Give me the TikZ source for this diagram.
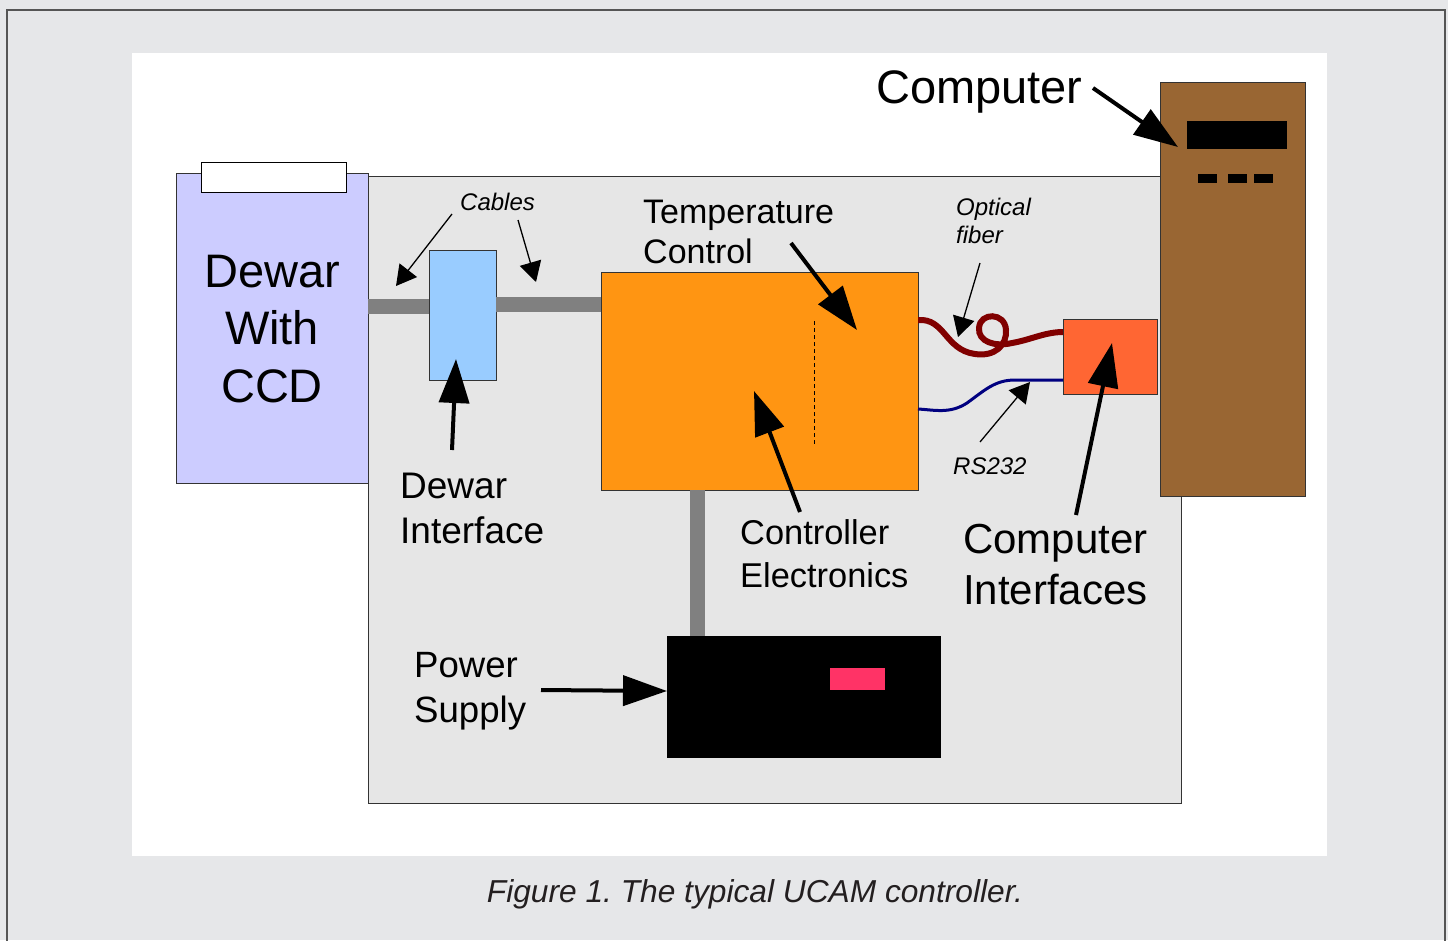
\documentclass[tikz,border=0pt]{standalone}
\usepackage{fontspec}
\setmainfont{Liberation Sans}
\usetikzlibrary{arrows.meta}
\definecolor{bggray}{HTML}{E6E7E9}
\definecolor{framegray}{HTML}{555555}
\definecolor{enclgray}{HTML}{E6E6E6}
\definecolor{boxline}{HTML}{333333}
\definecolor{dewarc}{HTML}{CCCCFF}
\definecolor{ifblue}{HTML}{99CCFF}
\definecolor{ctrlorange}{HTML}{FF9512}
\definecolor{compifc}{HTML}{FF6633}
\definecolor{towerbrown}{HTML}{996633}
\definecolor{pinkled}{HTML}{FF3366}
\definecolor{fiberred}{HTML}{800000}
\definecolor{rsblue}{HTML}{000080}
\definecolor{cablegray}{HTML}{808080}
\definecolor{captiongray}{HTML}{231F20}
\frenchspacing
\begin{document}
\begin{tikzpicture}[x=1pt,y=-1pt,
  box/.style={draw=boxline, line width=1pt, inner sep=0pt, outer sep=0pt, anchor=north west},
  cable/.style={draw=cablegray, line width=15pt},
  bigarrow/.style={line width=4pt, -{Triangle[length=44pt,width=30pt]}},
  smallarrow/.style={line width=1.3pt, -{Triangle[length=20pt,width=22pt]}},
  lbl/.style={inner sep=0pt, anchor=base west, align=left, text=black}
]
\useasboundingbox (0,0) rectangle (1448,940);
\fill[bggray] (0,0) rectangle (1448,940);
\draw[framegray, line width=1.5pt] (7,945) -- (7,10) -- (1445,10) -- (1445,945);
\fill[white] (132,53) rectangle (1327,856);

% enclosure
\node[box, fill=enclgray, minimum width=813pt, minimum height=627pt] (encl) at (368,176) {};

% boxes
\node[box, fill=dewarc, minimum width=192pt, minimum height=310pt] (dewar) at (176,173) {};
\node[box, draw=black, fill=white, minimum width=145pt, minimum height=30pt] (lid) at (201,162) {};
\node[box, fill=ifblue, minimum width=67pt, minimum height=130pt] (ifbox) at (429,250) {};
\node[box, fill=ctrlorange, minimum width=317pt, minimum height=218pt] (ctrl) at (601,272) {};
\node[box, draw=black, fill=black, minimum width=273pt, minimum height=121pt] (psu) at (667,636) {};
\node[box, draw=none, fill=pinkled, minimum width=55pt, minimum height=22pt] (led) at (830,668) {};
\node[box, fill=compifc, minimum width=94pt, minimum height=75pt] (compif) at (1063,319) {};
\node[box, fill=towerbrown, minimum width=145pt, minimum height=414pt] (tower) at (1160,82) {};
\node[box, draw=none, fill=black, minimum width=100pt, minimum height=28pt] (display) at (1187,121) {};
\node[box, draw=none, fill=black, minimum width=19pt, minimum height=9pt] (btna) at (1198,174) {};
\node[box, draw=none, fill=black, minimum width=19pt, minimum height=9pt] (btnb) at (1228,174) {};
\node[box, draw=none, fill=black, minimum width=19pt, minimum height=9pt] (btnc) at (1254,174) {};

% cables
\draw[cable] (dewar.east |- 0,306) -- (ifbox.west |- 0,306);
\draw[cable] (ifbox.east |- 0,304) -- (ctrl.west |- 0,304);
\draw[cable] (ctrl.south -| 697,0) -- (psu.north -| 697,0);

% dashed line inside controller
\coordinate (dashtop) at (814,321);
\coordinate (dashbot) at (814,446);
\draw[black, line width=1pt, dash pattern=on 4pt off 3pt] (dashtop) -- (dashbot);

% optical fiber and RS232
\draw[fiberred, line width=6pt] (ctrl.east |- 0,320)
  .. controls (945,318) and (945,350) .. (975,354)
  .. controls (995,357) and (1007,345) .. (1006,330)
  .. controls (1005,312) and (980,312) .. (979,328)
  .. controls (978,342) and (995,347) .. (1012,343)
  .. controls (1030,340) and (1045,332) .. (compif.west |- 0,332);
\draw[rsblue, line width=3pt] (ctrl.east |- 0,409)
  .. controls (935,410) and (950,414) .. (967,403)
  .. controls (985,390) and (995,380) .. (1015,380)
  -- (compif.west |- 0,380);

% labels (anchor base = baseline of last line)
\node[lbl, anchor=base, align=center, font={\fontsize{47}{57.5}\selectfont}] (dewartxt) at (272,402) {Dewar\\With\\CCD};
\node[lbl, font={\fontsize{37}{45}\selectfont}] (ifacetxt) at (400,543) {Dewar\\Interface};
\node[lbl, font={\fontsize{34}{40}\selectfont}] (temptxt) at (643,263) {Temperature\\Control};
\node[lbl, font={\fontsize{34.4}{43}\selectfont}] (ctrltxt) at (740,587) {Controller\\Electronics};
\node[lbl, font={\fontsize{42}{51}\selectfont}] (compiftxt) at (963,604) {Computer\\Interfaces};
\node[lbl, font={\fontsize{36.6}{45}\selectfont}] (powertxt) at (414,722) {Power\\Supply};
\node[lbl, font={\fontsize{47}{56}\selectfont}] (comptxt) at (876,103) {Computer};
\node[lbl, font={\itshape\fontsize{24}{28}\selectfont}] (cabletxt) at (460,210) {Cables};
\node[lbl, font={\itshape\fontsize{24}{28}\selectfont}] (fibertxt) at (956,243) {Optical\\fiber};
\node[lbl, font={\itshape\fontsize{24}{28}\selectfont}] (rstxt) at (953,474) {RS232};
\node[lbl, anchor=base, text=captiongray, font={\itshape\fontsize{31.7}{38}\selectfont}] (caption) at (755,902) {Figure 1. The typical UCAM controller.};

% arrow end points
\coordinate (tcT) at (791,243);   \coordinate (tcH) at (857,330);
\coordinate (ceT) at (800,512);   \coordinate (ceH) at (754,391);
\coordinate (diT) at (452,450);   \coordinate (diH) at (456,359);
\coordinate (psT) at (541,690);   \coordinate (psH) at (667,691);
\coordinate (ciT) at (1076,515);  \coordinate (ciH) at (1112,343);
\coordinate (cpT) at (1093,88);   \coordinate (cpH) at (1178,147);
\coordinate (caT1) at (452,214);  \coordinate (caH1) at (396,286);
\coordinate (caT2) at (518,220);  \coordinate (caH2) at (536,282);
\coordinate (ofT) at (980,263);   \coordinate (ofH) at (958,337);
\coordinate (rsT) at (980,442);   \coordinate (rsH) at (1030,382);

\draw[bigarrow] (tcT) -- (tcH);
\draw[bigarrow] (ceT) -- (ceH);
\draw[bigarrow] (diT) -- (diH);
\draw[bigarrow] (psT) -- (psH);
\draw[bigarrow] (ciT) -- (ciH);
\draw[bigarrow] (cpT) -- (cpH);
\draw[smallarrow] (caT1) -- (caH1);
\draw[smallarrow] (caT2) -- (caH2);
\draw[smallarrow] (ofT) -- (ofH);
\draw[smallarrow] (rsT) -- (rsH);
\end{tikzpicture}
\end{document}
